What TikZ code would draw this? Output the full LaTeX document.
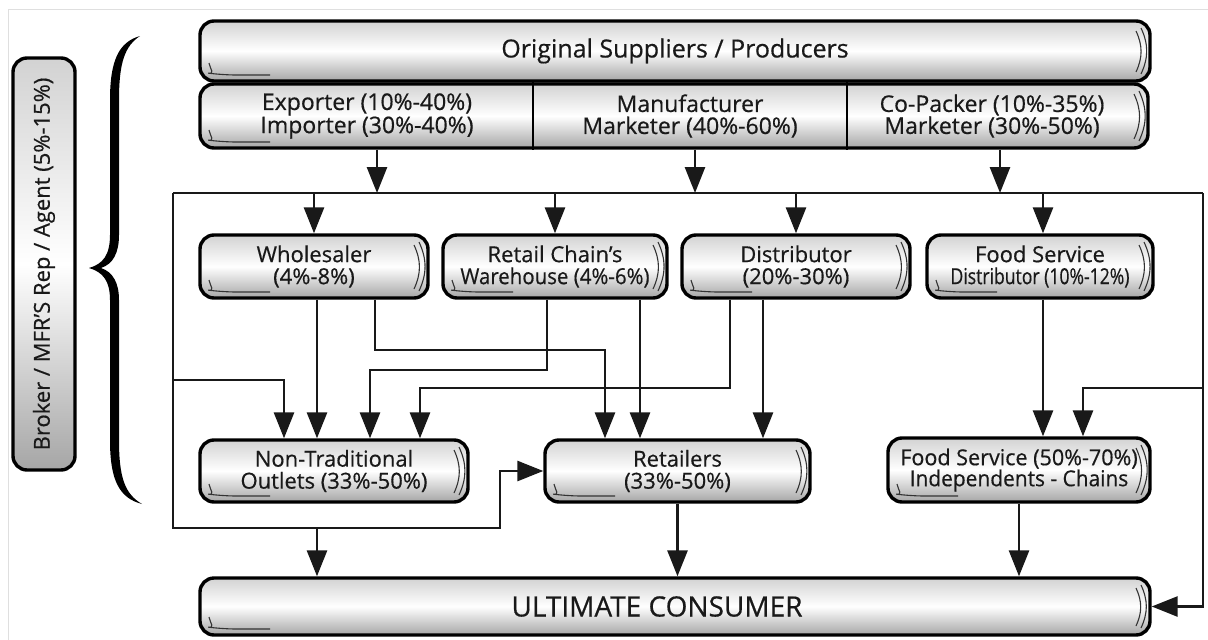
\documentclass[tikz,border=0pt]{standalone}
\usepackage{fontspec}
\usepackage{graphicx}
\setmainfont{Open Sans}[FakeBold=0.5]
\usetikzlibrary{arrows.meta,backgrounds}
\begin{document}
\begin{tikzpicture}[x=1pt,y=-1pt,
  deco/.style={path picture={
    \draw[line width=1.1pt,black!80] ([xshift=-9pt,yshift=-7pt]path picture bounding box.north east) to[bend left=25] ([xshift=-9pt,yshift=7pt]path picture bounding box.south east);
    \draw[line width=1.1pt,black!80] ([xshift=-14pt,yshift=-10pt]path picture bounding box.north east) to[bend left=25] ([xshift=-14pt,yshift=9pt]path picture bounding box.south east);
    \draw[line width=1.1pt,black!80] ([xshift=9pt,yshift=18pt]path picture bounding box.south west) to[bend right=35] ([xshift=22pt,yshift=6pt]path picture bounding box.south west) -- ([xshift=70pt,yshift=6pt]path picture bounding box.south west);
  }},
  box/.style={draw=black, line width=3.4pt, rounded corners=14pt,
    top color=gray!35, bottom color=gray!70, middle color=white,
    inner sep=0pt, align=center, text=black!90},
  tbox/.style={box, deco},
  lbl/.style={inner sep=0pt, align=center, text=black!90},
  conn/.style={line width=2.8pt, draw=black!90},
  arr/.style={conn, -{Triangle[length=26pt,width=20pt]}},
]
\useasboundingbox (0,0) rectangle (1208,640);
\draw[gray!25, line width=1pt] (1208,9) -- (8,9) -- (8,640);

% top rows
\node[tbox, minimum width=950, minimum height=60, font=\fontsize{25}{27}\selectfont] (sup) at (675,51) {Original Suppliers / Producers};
\node[tbox, minimum width=948, minimum height=64] (row2) at (674,116) {};
\draw[line width=2.6pt, black] (row2.north -| 533,0) -- (row2.south -| 533,0);
\draw[line width=2.6pt, black] (row2.north -| 847,0) -- (row2.south -| 847,0);
\node[lbl, font=\fontsize{23}{22}\selectfont] (exp) at (367,116) {Exporter (10\%-40\%)\\Importer (30\%-40\%)};
\node[lbl, font=\fontsize{23}{22}\selectfont] (man) at (690,116) {Manufacturer\\Marketer (40\%-60\%)};
\node[lbl, font=\fontsize{23}{22}\selectfont] (cop) at (992,116) {Co-Packer (10\%-35\%)\\Marketer (30\%-50\%)};

% middle row
\node[tbox, minimum width=228, minimum height=63, font=\fontsize{22}{22}\selectfont] (who) at (314,266.5) {Wholesaler\\(4\%-8\%)};
\node[tbox, minimum width=224, minimum height=63, font=\fontsize{22}{22}\selectfont] (rcw) at (555,266.5) {Retail Chain's\\\scalebox{0.93}[1]{Warehouse (4\%-6\%)}};
\node[tbox, minimum width=228, minimum height=63, font=\fontsize{22}{22}\selectfont] (dis) at (796,266.5) {Distributor\\(20\%-30\%)};
\node[tbox, minimum width=226, minimum height=63, font=\fontsize{22}{22}\selectfont] (fsd) at (1040,266.5) {Food Service\\\scalebox{0.8}[1]{Distributor (10\%-12\%)}};

% lower row
\node[tbox, minimum width=268, minimum height=62, font=\fontsize{22}{22}\selectfont] (nto) at (334,471) {Non-Traditional\\Outlets (33\%-50\%)};
\node[tbox, minimum width=265, minimum height=62, font=\fontsize{22}{22}\selectfont] (ret) at (677.5,471) {Retailers\\(33\%-50\%)};
\node[tbox, minimum width=262, minimum height=64, font=\fontsize{22}{21}\selectfont] (fs) at (1019,470) {\scalebox{0.98}[1]{Food Service (50\%-70\%)}\\\scalebox{0.95}[1]{Independents - Chains}};

\node[tbox, minimum width=950, minimum height=57, font=\fontsize{28}{30}\selectfont] (uc) at (675,606.5) {ULTIMATE CONSUMER\hspace*{36pt}};

% broker
\node[box, rotate=90, minimum width=412, minimum height=62, font=\fontsize{22}{24}\selectfont] (brk) at (44,264) {Broker / MFR'S Rep / Agent (5\%-15\%)};

% brace
\fill[black] (140,36) .. controls (119,42) and (110,60) .. (110,100) -- (110,235)
  .. controls (110,255) and (103,264) .. (89,268)
  .. controls (103,272) and (110,281) .. (110,300) -- (110,440)
  .. controls (110,480) and (119,498) .. (142,504)
  .. controls (125,494) and (119,478) .. (119,440) -- (119,300)
  .. controls (119,283) and (113,272) .. (101,268)
  .. controls (113,264) and (119,253) .. (119,235) -- (119,100)
  .. controls (119,62) and (125,46) .. (140,36) -- cycle;

% helper coordinates
\coordinate (tl) at (173,193);
\coordinate (tr) at (1203,193);
\coordinate (bl) at (173,528);
\coordinate (bm) at (500,528);
\coordinate (p377) at (377,0);
\coordinate (p695) at (695,0);
\coordinate (p1000) at (1000,0);
\coordinate (p317) at (317,0);
\coordinate (w2) at (375,350);
\coordinate (w3) at (605,350);
\coordinate (r1) at (547,370);
\coordinate (r2) at (370,370);
\coordinate (r3) at (640,0);
\coordinate (d1) at (730,388);
\coordinate (d2) at (420,388);
\coordinate (d3) at (763,0);
\coordinate (f1) at (1043,0);
\coordinate (l1) at (173,380);
\coordinate (l2) at (284,380);
\coordinate (q1) at (1203,388);
\coordinate (q2) at (1083,388);

\begin{scope}[on background layer]
  \draw[arr] (row2.south -| p377) -- (tl -| p377);
  \draw[arr] (row2.south -| p695) -- (tl -| p695);
  \draw[arr] (row2.south -| p1000) -- (tl -| p1000);
  \draw[conn] (tl) -- (tr);
  \draw[arr] (tr) -- (uc.east -| tr) -- (uc.east);
  \draw[arr] (tl) -- (bl) -- (bm) -- (ret.west -| bm) -- (ret.west);
  \draw[arr] (tl -| who.north) -- (who.north);
  \draw[arr] (tl -| rcw.north) -- (rcw.north);
  \draw[arr] (tl -| dis.north) -- (dis.north);
  \draw[arr] (tl -| f1) -- (fsd.north -| f1);
  \draw[arr] (bl -| p317) -- (uc.north -| p317);
  \draw[arr] (ret.south) -- (uc.north -| ret.south);
  \draw[arr] (fs.south) -- (uc.north -| fs.south);
  \draw[arr] (who.south -| p317) -- (nto.north -| p317);
  \draw[arr] (who.south -| w2) -- (w2) -- (w3) -- (ret.north -| w3);
  \draw[arr] (rcw.south -| r1) -- (r1) -- (r2) -- (nto.north -| r2);
  \draw[arr] (rcw.south -| r3) -- (ret.north -| r3);
  \draw[arr] (dis.south -| d1) -- (d1) -- (d2) -- (nto.north -| d2);
  \draw[arr] (dis.south -| d3) -- (ret.north -| d3);
  \draw[arr] (fsd.south -| f1) -- (fs.north -| f1);
  \draw[arr] (l1) -- (l2) -- (nto.north -| l2);
  \draw[arr] (q1) -- (q2) -- (fs.north -| q2);
\end{scope}
\end{tikzpicture}
\end{document}
